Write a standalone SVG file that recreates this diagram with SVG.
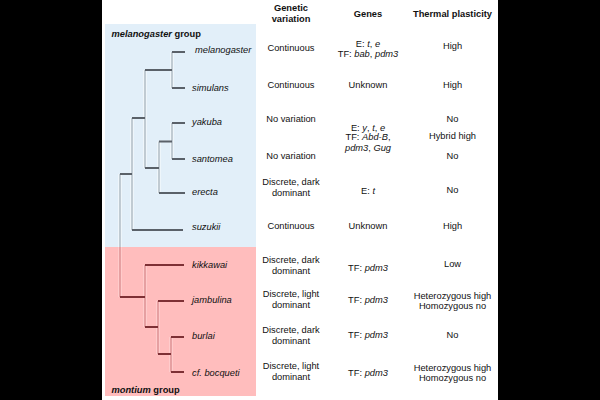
<svg xmlns="http://www.w3.org/2000/svg" width="600" height="400" viewBox="0 0 600 400">
<style>
text{font-family:"Liberation Sans",Arial,sans-serif;font-size:9.3px;fill:#111;}
.c{text-anchor:middle;}
.b{font-weight:bold;}
.i{font-style:italic;}
.hm{stroke:#5a6169;stroke-width:2;fill:none;}
.vm{stroke:#b4c0c8;stroke-width:1.6;fill:none;}
.vw{stroke:#f4f9fc;stroke-width:3.4;fill:none;}
.hr{stroke:#7d3035;stroke-width:2;fill:none;}
.vr{stroke:#e09496;stroke-width:1.6;fill:none;}
.vwr{stroke:#ffd2d2;stroke-width:3.4;fill:none;}
</style>
<rect x="0" y="0" width="600" height="400" fill="#000"/>
<rect x="102" y="0" width="396" height="400" fill="#fff"/>
<rect x="105" y="24" width="151" height="223" fill="#e2eff9"/>
<rect x="105" y="247" width="151" height="149" fill="#ffbdbd"/>

<g id="connectors">
<path class="vw" d="M172 52V88M172 123V159M159 141.5V193M145 70V168M132 118V230M120 174V247"/>
<path class="vwr" d="M120 247V297M145 265V327M158 301V354M171 337V372"/>
<path class="vm" d="M172 52V88M172 123V159M159 141.5V193M145 70V168M132 118V230M120 174V247"/>
<path class="vr" d="M120 247V297M145 265V327M158 301V354M171 337V372"/>
<path class="hm" d="M172 52H185M172 88H185M145 70H172M172 123H185M172 159H185M159 141.5H172M159 193H185M145 168H159M132 118H145M132 230H183M120 174H132"/>
<path class="hr" d="M120 297H145M145 265H184M145 327H158M158 301H184M158 354H171M171 337H184M171 372H184"/>
</g>

<g id="group-labels">
<text x="111.5" y="36.5" class="b"><tspan class="i">melanogaster</tspan> group</text>
<text x="111.5" y="393.3" class="b"><tspan class="i">montium</tspan> group</text>
</g>

<g id="species">
<text x="195" y="52.6" class="i">melanogaster</text>
<text x="192" y="90.6" class="i">simulans</text>
<text x="192" y="125" class="i">yakuba</text>
<text x="192" y="161.6" class="i">santomea</text>
<text x="192" y="195" class="i">erecta</text>
<text x="192" y="230" class="i">suzukii</text>
<text x="192" y="268.3" class="i">kikkawai</text>
<text x="192" y="302.6" class="i">jambulina</text>
<text x="192" y="339.3" class="i">burlai</text>
<text x="192" y="375.6" class="i">cf. bocqueti</text>
</g>

<g id="headers">
<text x="291" y="10.6" class="c b">Genetic</text>
<text x="291" y="21.6" class="c b">variation</text>
<text x="368" y="17.3" class="c b">Genes</text>
<text x="452.5" y="17.3" class="c b">Thermal plasticity</text>
</g>

<g id="genetic-variation">
<text x="291" y="51" class="c">Continuous</text>
<text x="291" y="87.6" class="c">Continuous</text>
<text x="291" y="121.6" class="c">No variation</text>
<text x="291" y="159.3" class="c">No variation</text>
<text x="291" y="185" class="c">Discrete, dark</text>
<text x="291" y="196" class="c">dominant</text>
<text x="291" y="229" class="c">Continuous</text>
<text x="291" y="263.3" class="c">Discrete, dark</text>
<text x="291" y="274" class="c">dominant</text>
<text x="291" y="297.3" class="c">Discrete, light</text>
<text x="291" y="307.6" class="c">dominant</text>
<text x="291" y="333.3" class="c">Discrete, dark</text>
<text x="291" y="344" class="c">dominant</text>
<text x="291" y="369" class="c">Discrete, light</text>
<text x="291" y="380" class="c">dominant</text>
</g>

<g id="genes">
<text x="368" y="46.6" class="c">E: <tspan class="i">t</tspan>, <tspan class="i">e</tspan></text>
<text x="368" y="56.6" class="c">TF: <tspan class="i">bab</tspan>, <tspan class="i">pdm3</tspan></text>
<text x="368" y="87.6" class="c">Unknown</text>
<text x="368" y="130.6" class="c">E: <tspan class="i">y</tspan>, <tspan class="i">t</tspan>, <tspan class="i">e</tspan></text>
<text x="368" y="140" class="c">TF: <tspan class="i">Abd-B</tspan>,</text>
<text x="368" y="150.6" class="c"><tspan class="i">pdm3</tspan>, <tspan class="i">Gug</tspan></text>
<text x="368" y="194" class="c">E: <tspan class="i">t</tspan></text>
<text x="368" y="229" class="c">Unknown</text>
<text x="368" y="271" class="c">TF: <tspan class="i">pdm3</tspan></text>
<text x="368" y="303.3" class="c">TF: <tspan class="i">pdm3</tspan></text>
<text x="368" y="338.3" class="c">TF: <tspan class="i">pdm3</tspan></text>
<text x="368" y="376" class="c">TF: <tspan class="i">pdm3</tspan></text>
</g>

<g id="thermal-plasticity">
<text x="452.5" y="49" class="c">High</text>
<text x="452.5" y="87.6" class="c">High</text>
<text x="452.5" y="122.3" class="c">No</text>
<text x="452.5" y="139.3" class="c">Hybrid high</text>
<text x="452.5" y="159.3" class="c">No</text>
<text x="452.5" y="192.6" class="c">No</text>
<text x="452.5" y="229" class="c">High</text>
<text x="452.5" y="267.3" class="c">Low</text>
<text x="452.5" y="299" class="c">Heterozygous high</text>
<text x="452.5" y="309.3" class="c">Homozygous no</text>
<text x="452.5" y="337.6" class="c">No</text>
<text x="452.5" y="370.6" class="c">Heterozygous high</text>
<text x="452.5" y="381" class="c">Homozygous no</text>
</g>
</svg>
